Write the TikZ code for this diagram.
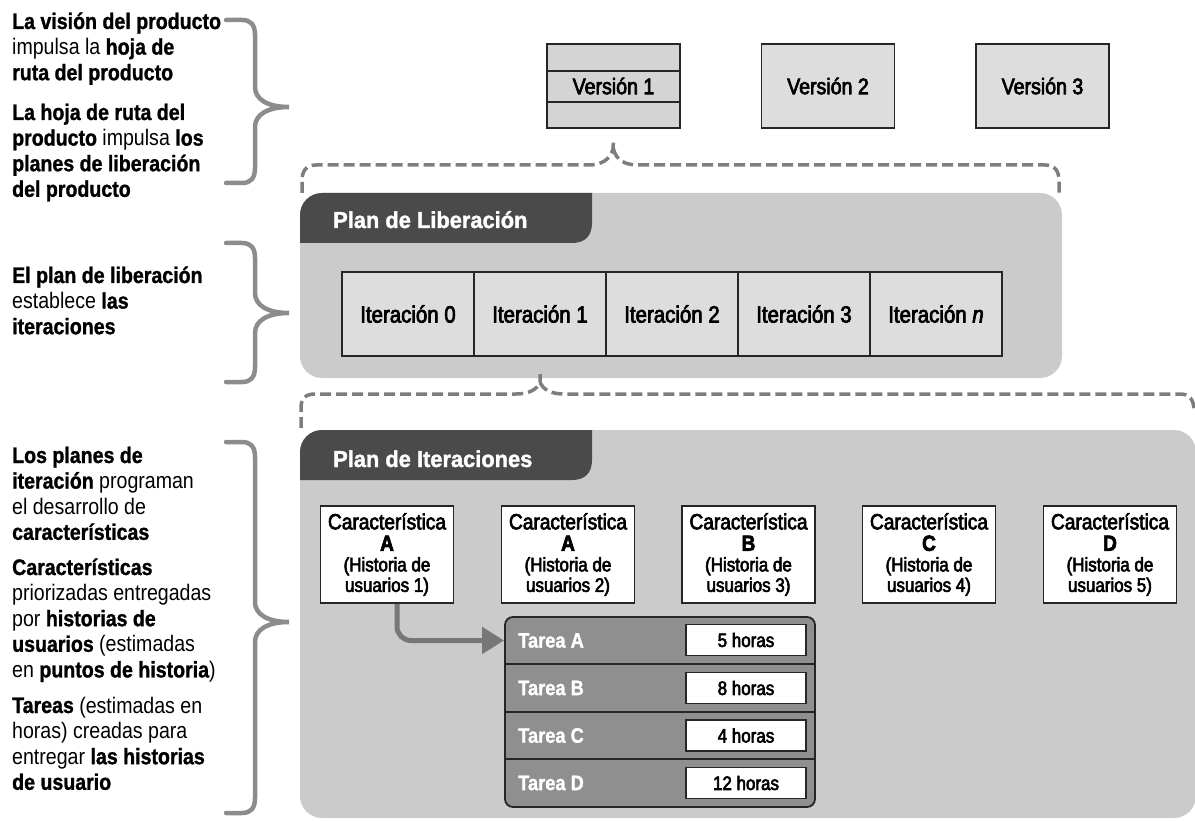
\documentclass[tikz,border=0pt]{standalone}
\usepackage{fontspec}
\setmainfont{Liberation Sans}[FakeStretch=0.87,BoldFeatures={FakeBold=1.2}]
\newfontfamily\medfont{Liberation Sans}[FakeStretch=0.87,FakeBold=3]
\newfontfamily\headfont{Liberation Sans Bold}[FakeStretch=0.95,FakeBold=1.5]
\usetikzlibrary{arrows.meta}

\definecolor{edge}{HTML}{262626}
\definecolor{panelc}{HTML}{CBCBCB}
\definecolor{tabc}{HTML}{4A4A4A}
\definecolor{vfill}{HTML}{DDDDDD}
\definecolor{vonefill}{HTML}{D4D4D4}
\definecolor{dashc}{HTML}{7D7D7D}
\definecolor{bracec}{HTML}{8C8C8C}
\definecolor{taskc}{HTML}{8F8F8F}
\definecolor{arrowc}{HTML}{777777}

% left-hand explanatory paragraph, first baseline at the node's base
\newcommand\sidepara[1]{\vtop{\hsize=300pt\parindent=0pt\raggedright
  \fontsize{22.5}{25.6}\selectfont #1\par}}
% curly brace: top end, tip height, bottom end
\newcommand\bracepath[3]{(226,#1) -- (242,#1)
  .. controls (251,#1) and (255,{#1+5}) .. (255,{#1+15}) -- (255,{#2-20})
  .. controls (255,{#2-8}) and (267,#2) .. (289,#2)
  .. controls (267,#2) and (255,{#2+8}) .. (255,{#2+20}) -- (255,{#3-15})
  .. controls (255,{#3-5}) and (251,#3) .. (242,#3) -- (226,#3)}
% text of a feature card
\newcommand\featuretext[2]{\vbox{\medfont
  \fontsize{22}{21.5}\selectfont
  \hbox to 133pt{\hss Característica\hss}%
  \hbox to 133pt{\hss\bfseries #1\hss}%
  \fontsize{19.5}{20.5}\selectfont
  \hbox to 133pt{\hss (Historia de\hss}%
  \hbox to 133pt{\hss usuarios #2)\hss}}}

\begin{document}
\begin{tikzpicture}[x=1pt,y=-1pt,
  curlybrace/.style={draw=bracec, line width=4.5pt, line cap=round},
  dashbrace/.style={draw=dashc, line width=3.5pt, dash pattern=on 11pt off 5pt},
  sidetext/.style={anchor=base west, inner sep=0pt},
  versionbox/.style={draw=edge, line width=1.8pt, fill=vfill, inner sep=0pt,
    minimum width=133pt, minimum height=84pt, font=\medfont\fontsize{22.5}{26}\selectfont},
  iterbox/.style={draw=edge, line width=1.8pt, fill=vfill, inner sep=0pt,
    minimum width=132pt, minimum height=84pt, font=\medfont\fontsize{23.5}{26}\selectfont},
  panel/.style={fill=panelc, rounded corners=22pt},
  tabtext/.style={anchor=base west, inner sep=0pt, text=white,
    font=\headfont\fontsize{23}{27}\selectfont},
  featurebox/.style={draw=edge, line width=1.8pt, fill=white, inner sep=0pt,
    minimum width=133pt, minimum height=97pt},
  taskframe/.style={draw=edge, line width=1.8pt, fill=taskc, rounded corners=8pt,
    inner sep=0pt, minimum width=310pt, minimum height=190pt},
  tasklabel/.style={anchor=west, inner sep=0pt, text=white,
    font=\bfseries\fontsize{21}{24}\selectfont},
  hoursbox/.style={draw=edge, line width=1.6pt, fill=white, inner sep=0pt,
    minimum width=120pt, minimum height=31pt, font=\medfont\fontsize{19.5}{22}\selectfont}]

\useasboundingbox (0,0) rectangle (1195,821);

% ---- left column: explanations and braces ----
\node[sidetext] (p1) at (12,29) {\sidepara{\textbf{La visión del producto}\\
  impulsa la \textbf{hoja de}\\ \textbf{ruta del producto}}};
\node[sidetext] (p2) at (12,120) {\sidepara{\textbf{La hoja de ruta del}\\
  \textbf{producto} impulsa \textbf{los}\\ \textbf{planes de liberación}\\
  \textbf{del producto}}};
\node[sidetext] (p3) at (12,283) {\sidepara{\textbf{El plan de liberación}\\
  establece \textbf{las}\\ \textbf{iteraciones}}};
\node[sidetext] (p4) at (12,463) {\sidepara{\textbf{Los planes de}\\
  \textbf{iteración} programan\\ el desarrollo de\\ \textbf{características}}};
\node[sidetext] (p5) at (12,575) {\sidepara{\textbf{Características}\\
  priorizadas entregadas\\ por \textbf{historias de}\\
  \textbf{usuarios} (estimadas\\ en \textbf{puntos de historia})}};
\node[sidetext] (p6) at (12,713) {\sidepara{\textbf{Tareas} (estimadas en\\
  horas) creadas para\\ entregar \textbf{las historias}\\ \textbf{de usuario}}};

\draw[curlybrace] \bracepath{20}{107}{183};
\draw[curlybrace] \bracepath{243}{313}{382};
\draw[curlybrace] \bracepath{442}{622}{813};

% ---- product versions ----
\node[versionbox, fill=vonefill] (v1) at (613.5,86) {Versión 1};
\node[versionbox] (v2) at (828,86) {Versión 2};
\node[versionbox] (v3) at (1042.5,86) {Versión 3};
\draw[draw=edge, line width=1.5pt] ([yshift=-28pt]v1.north west) -- ([yshift=-28pt]v1.north east);
\draw[draw=edge, line width=1.5pt] ([yshift=27pt]v1.south west) -- ([yshift=27pt]v1.south east);

% dashed brace from Version 1 over the release plan
\coordinate (d1l) at (302,193);
\coordinate (d1r) at (1059,193);
\draw[dashbrace] (d1l) -- (302,181) .. controls (302,171) and (306,165) .. (316,165)
  -- (588,165) .. controls (601,165) and (610,160) .. (613,149) -- (v1.south |- 0,140);
\draw[dashbrace] (v1.south |- 0,149) .. controls (616,160) and (625,165) .. (638,165)
  -- (1045,165) .. controls (1055,165) and (1059,171) .. (1059,181) -- (d1r);

% ---- release plan panel ----
\fill[panel] (300,193) rectangle (1062,378);
\begin{scope}
  \clip[rounded corners=22pt] (300,193) rectangle (1062,378);
  \fill[tabc] (300,193) -- (592,193) -- (592,223)
    .. controls (592,236) and (585,243) .. (572,243) -- (300,243) -- cycle;
\end{scope}
\node[tabtext] (relplan) at (333,228) {Plan de Liberación};

\node[iterbox] (it0) at (408,314) {Iteración 0};
\node[iterbox] (it1) at (540,314) {Iteración 1};
\node[iterbox] (it2) at (672,314) {Iteración 2};
\node[iterbox] (it3) at (804,314) {Iteración 3};
\node[iterbox] (it4) at (936,314) {Iteración \textit{n}};

% dashed brace from Iteración 1 over the iteration plan
\coordinate (d2l) at (301,428);
\coordinate (d2r) at (1194,411);
\draw[dashbrace] (d2l) -- (301,408) .. controls (301,399) and (305,394) .. (315,394)
  -- (516,394) .. controls (528,394) and (537,390) .. (540,382) -- (it1.south |- 0,374);
\draw[dashbrace] (it1.south |- 0,382) .. controls (543,390) and (552,394) .. (564,394)
  -- (1180,394) .. controls (1189,394) and (1194,399) .. (d2r);

% ---- iteration plan panel ----
\fill[panel] (300,430) rectangle (1196,818);
\begin{scope}
  \clip[rounded corners=22pt] (300,430) rectangle (1196,818);
  \fill[tabc] (300,430) -- (592,430) -- (592,460)
    .. controls (592,473) and (585,480) .. (572,480) -- (300,480) -- cycle;
\end{scope}
\node[tabtext] (iterplan) at (333,467) {Plan de Iteraciones};

\node[featurebox] (fa) at (387,554.5) {\featuretext{A}{1}};
\node[featurebox] (fa2) at (568,554.5) {\featuretext{A}{2}};
\node[featurebox] (fb) at (748.5,554.5) {\featuretext{B}{3}};
\node[featurebox] (fc) at (929,554.5) {\featuretext{C}{4}};
\node[featurebox] (fd) at (1110,554.5) {\featuretext{D}{5}};

% tasks of the first user story
\node[taskframe] (tasks) at (660,712) {};
\draw[draw=edge, line width=1.6pt] (tasks.west |- 0,664) -- (tasks.east |- 0,664);
\draw[draw=edge, line width=1.6pt] (tasks.west |- 0,712) -- (tasks.east |- 0,712);
\draw[draw=edge, line width=1.6pt] (tasks.west |- 0,759) -- (tasks.east |- 0,759);

\node[tasklabel] (ta) at (518,640.5) {Tarea A};
\node[tasklabel] (tb) at (518,688) {Tarea B};
\node[tasklabel] (tc) at (518,735.5) {Tarea C};
\node[tasklabel] (td) at (518,783) {Tarea D};
\node[hoursbox] (ha) at (746,640) {5 horas};
\node[hoursbox] (hb) at (746,688) {8 horas};
\node[hoursbox] (hc) at (746,735.5) {4 horas};
\node[hoursbox] (hd) at (746,783) {12 horas};

\draw[draw=arrowc, line width=5pt, rounded corners=14pt,
  -{Triangle[length=22pt,width=26pt]}]
  ([xshift=10pt]fa.south) |- (tasks.west |- ta.west);

\end{tikzpicture}
\end{document}
